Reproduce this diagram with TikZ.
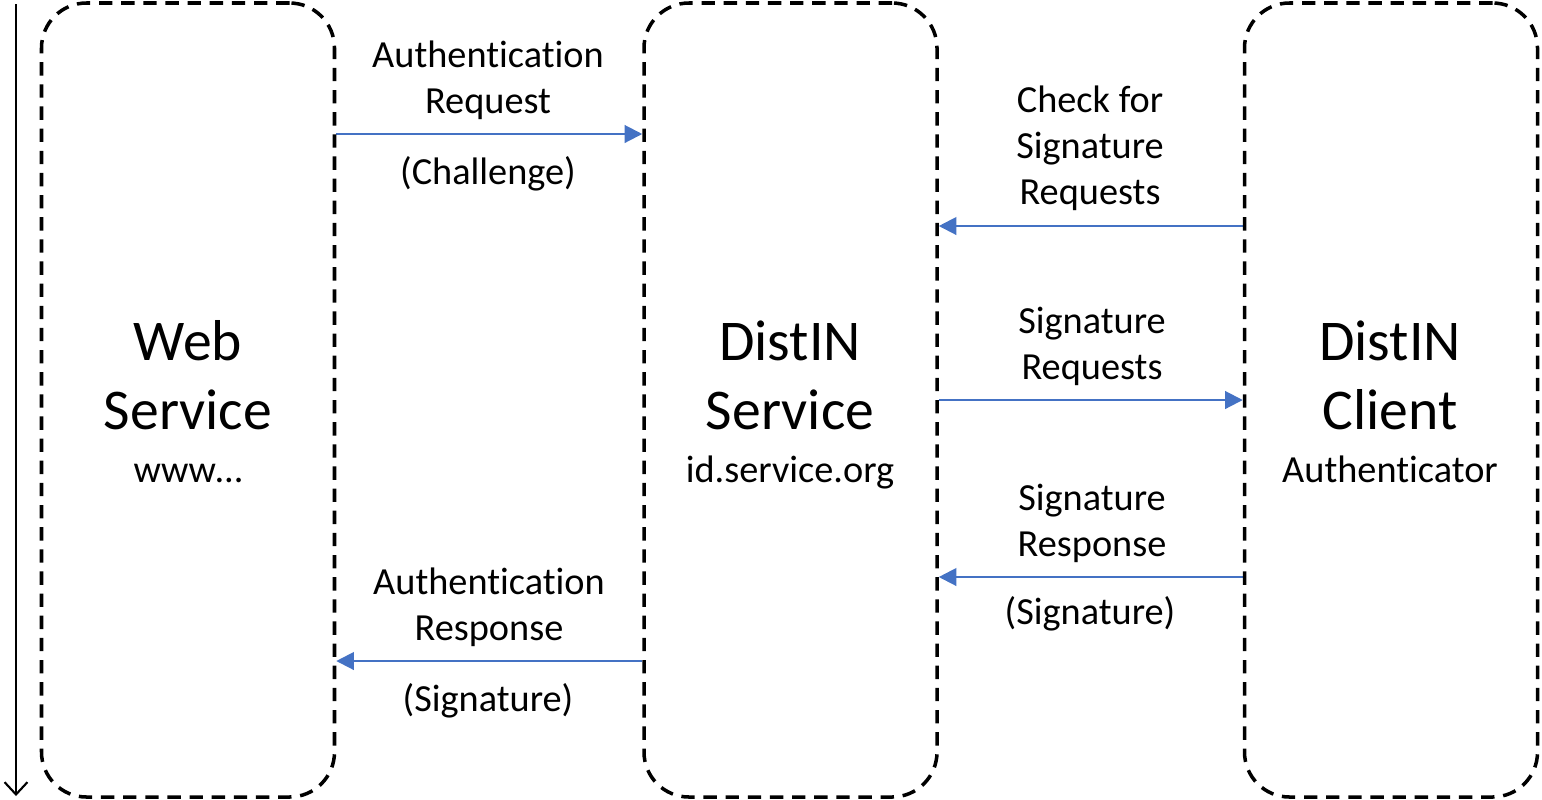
\documentclass[tikz,border=0pt]{standalone}
\usepackage{fontspec}
\setmainfont[Ligatures=NoCommon]{Carlito}
\usepackage{tikz}
\definecolor{white}{rgb}{1.0, 1.0, 1.0}
\definecolor{black}{rgb}{0.0, 0.0, 0.0}
\definecolor{msgblue}{RGB}{68,114,196}
\usetikzlibrary{arrows.meta}
\pgfdeclarelayer{edgelayer}
\pgfdeclarelayer{nodelayer}
\pgfsetlayers{edgelayer,nodelayer,main}
\tikzstyle{lane}=[rectangle,rounded corners=0.9cm,draw=black,line width=2pt,dash pattern=on 7.6pt off 5pt,minimum width=5.86cm,minimum height=15.88cm]
\tikzstyle{msg}=[-{Triangle[length=10pt,width=10pt]},draw=msgblue,line width=1.2pt]
\tikzstyle{timeline}=[-{Straight Barb[length=7pt,width=13pt,line width=1.2pt]},draw=black,line width=1.2pt]
\tikzstyle{txt}=[align=center,inner sep=0pt,font={\fontsize{21.8}{26.1}\selectfont}]
\tikzstyle{bigtxt}=[align=center,inner sep=0pt,font={\fontsize{32.8}{39.1}\selectfont}]

\begin{document}
\begin{tikzpicture}
        \useasboundingbox (0, 0) rectangle (30.84, -15.98);
        \begin{pgfonlayer}{nodelayer}
            \node [style = lane] (web) at (3.76, -8) {};
            \node [style = lane] (distin) at (15.81, -8) {};
            \node [style = lane] (client) at (27.82, -8) {};

            \node [style = bigtxt] (webname) at (3.76, -7.51) {Web\\Service};
            \node [style = txt, anchor = base] (weburl) at (3.76, -9.64) {www…};
            \node [style = bigtxt] (distinname) at (15.80, -7.51) {DistIN\\Service};
            \node [style = txt, anchor = base] (distinurl) at (15.80, -9.64) {id.service.org};
            \node [style = bigtxt] (clientname) at (27.80, -7.51) {DistIN\\Client};
            \node [style = txt, anchor = base] (clientrole) at (27.80, -9.64) {Authenticator};

            \node [style = txt] (authreq) at (9.76, -1.60) {Authentication\\Request};
            \node [style = txt, anchor = base] (challenge) at (9.76, -3.68) {(Challenge)};
            \node [style = txt] (check) at (21.80, -2.97) {Check for\\Signature\\Requests};
            \node [style = txt] (sigreq) at (21.84, -6.92) {Signature\\Requests};
            \node [style = txt] (sigresp) at (21.84, -10.46) {Signature\\Response};
            \node [style = txt, anchor = base] (sig1) at (21.80, -12.48) {(Signature)};
            \node [style = txt] (authresp) at (9.78, -12.15) {Authentication\\Response};
            \node [style = txt, anchor = base] (sig2) at (9.76, -14.22) {(Signature)};

            \coordinate (m1) at (0, -2.68);
            \coordinate (m2) at (0, -4.52);
            \coordinate (m3) at (0, -8.00);
            \coordinate (m4) at (0, -11.54);
            \coordinate (m5) at (0, -13.22);
            \coordinate (tstart) at (0.32, -0.08);
            \coordinate (tend) at (0.32, -15.92);
        \end{pgfonlayer}

        \begin{pgfonlayer}{edgelayer}
            \draw [style = timeline] (tstart) to (tend);

            \draw [style = msg] (web.east |- m1) to (distin.west |- m1);
            \draw [style = msg] (client.west |- m2) to (distin.east |- m2);
            \draw [style = msg] (distin.east |- m3) to (client.west |- m3);
            \draw [style = msg] (client.west |- m4) to (distin.east |- m4);
            \draw [style = msg] (distin.west |- m5) to (web.east |- m5);

        \end{pgfonlayer}
    \end{tikzpicture}
\end{document}
